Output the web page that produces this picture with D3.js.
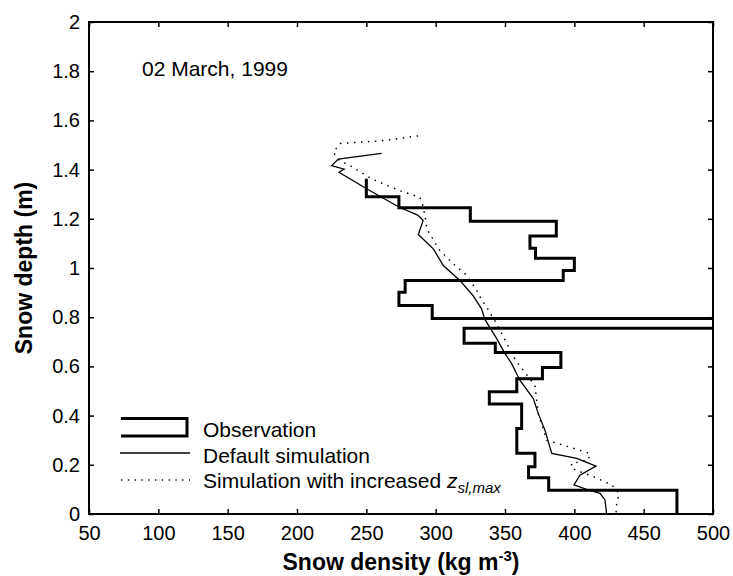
<!DOCTYPE html>
<html>
<head>
<meta charset="utf-8">
<script src="https://cdn.jsdelivr.net/npm/d3@7"></script>
<style>
  body { margin: 0; background: #fff; }
  svg { font-family: "Liberation Sans", Arial, sans-serif; }
</style>
</head>
<body>
<svg id="chart" width="733" height="576"></svg>
<script>
// observation layers: top depth, bottom depth (m), density (kg m-3)
var obsTop = [1.363, 1.29, 1.245, 1.19, 1.13, 1.08, 1.04, 0.99, 0.949, 0.901, 0.848, 0.795, 0.755, 0.694, 0.657, 0.596, 0.550, 0.497, 0.447, 0.348, 0.247, 0.192, 0.147, 0.097];
var obsBottom = [1.29, 1.245, 1.19, 1.13, 1.08, 1.04, 0.99, 0.949, 0.901, 0.848, 0.795, 0.755, 0.694, 0.657, 0.596, 0.550, 0.497, 0.447, 0.348, 0.247, 0.192, 0.147, 0.097, 0];
var obsDensity = [250, 273.5, 325, 387, 368, 372, 400, 392, 278, 273.5, 297.5, 600, 320.5, 343, 390.3, 377, 358.5, 338.7, 362, 358.5, 371.6, 367, 381.5, 474];

// default simulation (density, depth)
var defDensity = [261, 229.8, 225, 234, 230.3, 250.5, 273.8, 287, 291, 287.5, 298.3, 305.5, 317.5, 327, 333, 335.6, 344, 350, 354.8, 360.5, 370.4, 374, 378.8, 383.7, 401.7, 415.6, 404, 399.8, 408.9, 418.5, 422.1, 423.3];
var defDepth = [1.466, 1.443, 1.416, 1.402, 1.389, 1.321, 1.247, 1.215, 1.193, 1.136, 1.078, 1.010, 0.949, 0.888, 0.835, 0.790, 0.713, 0.652, 0.611, 0.546, 0.469, 0.408, 0.341, 0.246, 0.226, 0.195, 0.158, 0.118, 0.100, 0.084, 0.057, 0];

// simulation with increased z_sl,max
var incDensity = [287.3, 261, 231, 226.2, 231, 237, 250.3, 254, 274.3, 285, 288.7, 291, 293, 293.5, 303, 312.7, 322.4, 327, 329.6, 333.2, 336.8, 339.2, 344, 350, 353.6, 358.4, 363.2, 371.6, 374, 380, 392, 411.3, 410, 398, 398, 413.7, 427, 432.4, 430.6, 430];
var incDepth = [1.537, 1.517, 1.506, 1.47, 1.435, 1.42, 1.375, 1.362, 1.314, 1.294, 1.287, 1.25, 1.19, 1.159, 1.071, 1.017, 0.970, 0.931, 0.909, 0.870, 0.841, 0.816, 0.774, 0.707, 0.667, 0.618, 0.584, 0.523, 0.408, 0.300, 0.280, 0.246, 0.219, 0.206, 0.185, 0.152, 0.118, 0.084, 0.043, 0];

var xTicks = [50, 100, 150, 200, 250, 300, 350, 400, 450, 500];
var yTicks = [0, 0.2, 0.4, 0.6, 0.8, 1, 1.2, 1.4, 1.6, 1.8, 2];

var pL = 89, pR = 713, pT = 22, pB = 514;
var svg = d3.select("#chart");

var x = d3.scaleLinear().domain([50, 500]).range([pL, pR]);
var y = d3.scaleLinear().domain([0, 2]).range([pB, pT]);

svg.append("defs").append("clipPath").attr("id", "plotclip")
  .append("rect").attr("x", pL).attr("y", pT).attr("width", pR - pL).attr("height", pB - pT);

// axes, ticks pointing inward
var fmt = function(d){ return String(+d.toFixed(1)); };
var gx = svg.append("g").attr("transform", "translate(0," + pB + ")")
  .call(d3.axisBottom(x).tickValues(xTicks).tickSizeInner(-5).tickSizeOuter(0).tickPadding(12));
var gy = svg.append("g").attr("transform", "translate(" + pL + ",0)")
  .call(d3.axisLeft(y).tickValues(yTicks).tickFormat(fmt).tickSizeInner(-5).tickSizeOuter(0).tickPadding(9));
var gt = svg.append("g").attr("transform", "translate(0," + pT + ")")
  .call(d3.axisTop(x).tickValues(xTicks).tickFormat("").tickSizeInner(-5).tickSizeOuter(0));
var gr = svg.append("g").attr("transform", "translate(" + pR + ",0)")
  .call(d3.axisRight(y).tickValues(yTicks).tickFormat("").tickSizeInner(-5).tickSizeOuter(0));

[gx, gy, gt, gr].forEach(function(g){
  g.select(".domain").remove();
  g.selectAll(".tick line").attr("stroke", "#000").attr("stroke-width", 1.5);
  g.selectAll(".tick text").attr("fill", "#000").style("font-size", "20px");
});

// observation step profile
var obsPts = [];
for (var i = 0; i < obsDensity.length; i++) {
  obsPts.push([obsDensity[i], obsTop[i]]);
  obsPts.push([obsDensity[i], obsBottom[i]]);
}
var line = d3.line().x(function(d){ return x(d[0]); }).y(function(d){ return y(d[1]); });

var plot = svg.append("g").attr("clip-path", "url(#plotclip)");
plot.append("path").datum(obsPts).attr("d", line)
  .attr("fill", "none").attr("stroke", "#000").attr("stroke-width", 3).attr("stroke-linejoin", "miter");

plot.append("path").datum(d3.zip(defDensity, defDepth)).attr("d", line)
  .attr("fill", "none").attr("stroke", "#000").attr("stroke-width", 1.3);

plot.append("path").datum(d3.zip(incDensity, incDepth)).attr("d", line)
  .attr("fill", "none").attr("stroke", "#000").attr("stroke-width", 1.5)
  .attr("stroke-dasharray", "1.5,5.5");

// frame
svg.append("rect").attr("x", pL).attr("y", pT).attr("width", pR - pL).attr("height", pB - pT)
  .attr("fill", "none").attr("stroke", "#000").attr("stroke-width", 2);

// axis labels
var xl = svg.append("text").attr("x", (pL + pR) / 2).attr("y", 570).attr("text-anchor", "middle")
  .style("font-size", "23px").style("font-weight", "bold");
xl.append("tspan").text("Snow density (kg m");
xl.append("tspan").attr("dy", -9).style("font-size", "15px").text("-3");
xl.append("tspan").attr("dy", 9).text(")");

svg.append("text").attr("transform", "translate(32," + (pT + pB) / 2 + ") rotate(-90)")
  .attr("text-anchor", "middle").style("font-size", "23px").style("font-weight", "bold")
  .text("Snow depth (m)");

svg.append("text").attr("x", 142).attr("y", 76).style("font-size", "21px").text("02 March, 1999");

// legend
var lg = svg.append("g");
lg.append("path").attr("d", "M121,418.5H187V436H121").attr("fill", "none")
  .attr("stroke", "#000").attr("stroke-width", 3);
lg.append("line").attr("x1", 120).attr("x2", 190).attr("y1", 453).attr("y2", 453)
  .attr("stroke", "#000").attr("stroke-width", 1.3);
lg.append("line").attr("x1", 121).attr("x2", 190).attr("y1", 480).attr("y2", 480)
  .attr("stroke", "#000").attr("stroke-width", 1.3).attr("stroke-dasharray", "1.3,5.5");
lg.append("text").attr("x", 203).attr("y", 437).style("font-size", "21px").text("Observation");
lg.append("text").attr("x", 203).attr("y", 463).style("font-size", "21px").text("Default simulation");
var t3 = lg.append("text").attr("x", 203).attr("y", 488).style("font-size", "21px");
t3.append("tspan").text("Simulation with increased ");
t3.append("tspan").style("font-style", "italic").text("z");
t3.append("tspan").attr("dy", 5).style("font-style", "italic").style("font-size", "15px").text("sl,max");
</script>
</body>
</html>
